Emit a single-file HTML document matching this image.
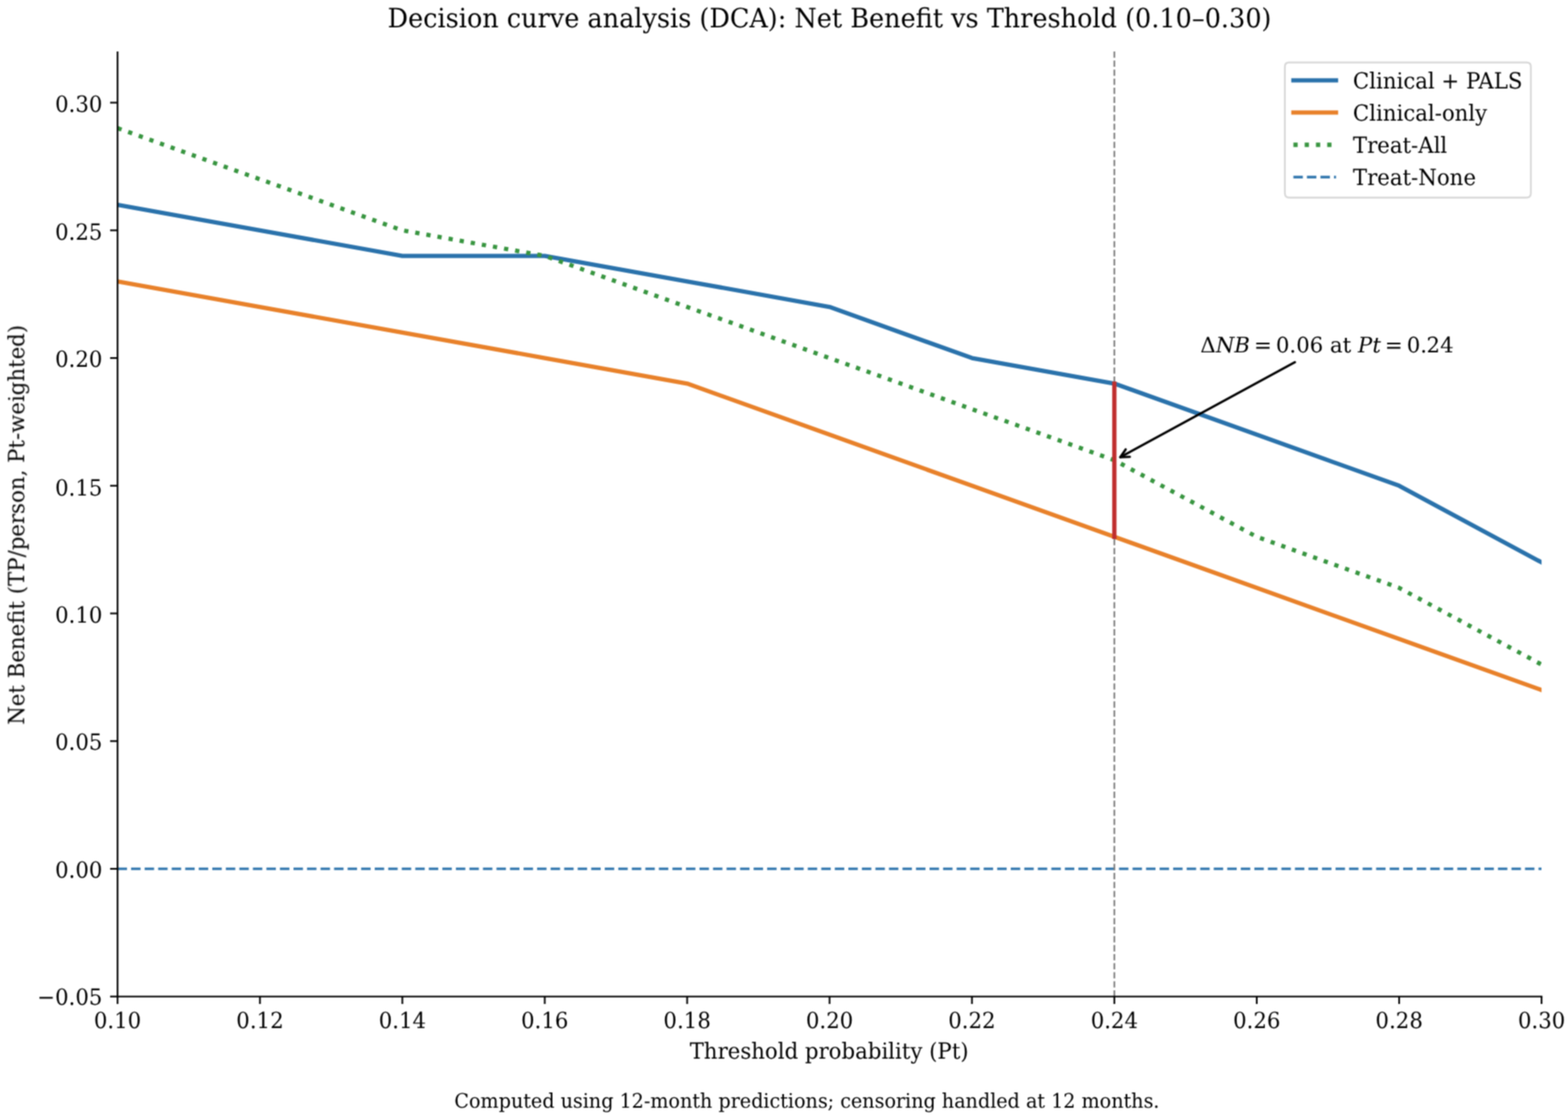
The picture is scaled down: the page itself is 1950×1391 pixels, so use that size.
<!DOCTYPE html><html><head><meta charset="utf-8"><title>Decision curve analysis (DCA): Net Benefit vs Threshold</title>
<style>html,body{margin:0;padding:0;background:#fff;overflow:hidden}svg{display:block}text{font-family:'DejaVu Serif', 'Liberation Serif', serif;fill:#000;text-rendering:geometricPrecision}</style></head><body>
<svg width="1950" height="1391" viewBox="0 0 1950 1391">
<defs><filter id="soft" filterUnits="userSpaceOnUse" x="0" y="0" width="1950" height="1391" color-interpolation-filters="sRGB"><feConvolveMatrix order="3" kernelMatrix="0.05712 0.12476 0.05712 0.12476 0.27250 0.12476 0.05712 0.12476 0.05712" edgeMode="duplicate"/></filter>
<clipPath id="ax"><rect x="146.2" y="64.1" width="1770.9" height="1174.64"/></clipPath></defs>
<rect width="1950" height="1391" fill="#fff"/>
<g filter="url(#soft)">
<g stroke="#000" stroke-width="2.12">
<line x1="146.2" y1="1238.74" x2="146.2" y2="1248"/>
<line x1="323.29" y1="1238.74" x2="323.29" y2="1248"/>
<line x1="500.38" y1="1238.74" x2="500.38" y2="1248"/>
<line x1="677.47" y1="1238.74" x2="677.47" y2="1248"/>
<line x1="854.56" y1="1238.74" x2="854.56" y2="1248"/>
<line x1="1031.65" y1="1238.74" x2="1031.65" y2="1248"/>
<line x1="1208.74" y1="1238.74" x2="1208.74" y2="1248"/>
<line x1="1385.83" y1="1238.74" x2="1385.83" y2="1248"/>
<line x1="1562.92" y1="1238.74" x2="1562.92" y2="1248"/>
<line x1="1740.01" y1="1238.74" x2="1740.01" y2="1248"/>
<line x1="1917.1" y1="1238.74" x2="1917.1" y2="1248"/>
<line x1="136.94" y1="1238.74" x2="146.2" y2="1238.74"/>
<line x1="136.94" y1="1080" x2="146.2" y2="1080"/>
<line x1="136.94" y1="921.26" x2="146.2" y2="921.26"/>
<line x1="136.94" y1="762.53" x2="146.2" y2="762.53"/>
<line x1="136.94" y1="603.79" x2="146.2" y2="603.79"/>
<line x1="136.94" y1="445.06" x2="146.2" y2="445.06"/>
<line x1="136.94" y1="286.32" x2="146.2" y2="286.32"/>
<line x1="136.94" y1="127.59" x2="146.2" y2="127.59"/>
</g>
<text transform="translate(146.2 1278.4) scale(1 1.045)" font-size="26.46" text-anchor="middle">0.10</text>
<text transform="translate(323.29 1278.4) scale(1 1.045)" font-size="26.46" text-anchor="middle">0.12</text>
<text transform="translate(500.38 1278.4) scale(1 1.045)" font-size="26.46" text-anchor="middle">0.14</text>
<text transform="translate(677.47 1278.4) scale(1 1.045)" font-size="26.46" text-anchor="middle">0.16</text>
<text transform="translate(854.56 1278.4) scale(1 1.045)" font-size="26.46" text-anchor="middle">0.18</text>
<text transform="translate(1031.65 1278.4) scale(1 1.045)" font-size="26.46" text-anchor="middle">0.20</text>
<text transform="translate(1208.74 1278.4) scale(1 1.045)" font-size="26.46" text-anchor="middle">0.22</text>
<text transform="translate(1385.83 1278.4) scale(1 1.045)" font-size="26.46" text-anchor="middle">0.24</text>
<text transform="translate(1562.92 1278.4) scale(1 1.045)" font-size="26.46" text-anchor="middle">0.26</text>
<text transform="translate(1740.01 1278.4) scale(1 1.045)" font-size="26.46" text-anchor="middle">0.28</text>
<text transform="translate(1917.1 1278.4) scale(1 1.045)" font-size="26.46" text-anchor="middle">0.30</text>
<text transform="translate(127.45 1249.46) scale(1 1.045)" font-size="26.46" text-anchor="end">−0.05</text>
<text transform="translate(127.45 1090.72) scale(1 1.045)" font-size="26.46" text-anchor="end">0.00</text>
<text transform="translate(127.45 931.99) scale(1 1.045)" font-size="26.46" text-anchor="end">0.05</text>
<text transform="translate(127.45 774.25) scale(1 1.045)" font-size="26.46" text-anchor="end">0.10</text>
<text transform="translate(127.45 615.51) scale(1 1.045)" font-size="26.46" text-anchor="end">0.15</text>
<text transform="translate(127.45 455.78) scale(1 1.045)" font-size="26.46" text-anchor="end">0.20</text>
<text transform="translate(127.45 298.04) scale(1 1.045)" font-size="26.46" text-anchor="end">0.25</text>
<text transform="translate(127.45 139.31) scale(1 1.045)" font-size="26.46" text-anchor="end">0.30</text>
<text transform="translate(1031.15 1315.6) scale(1 1.045)" font-size="26.46" text-anchor="middle">Threshold probability (Pt)</text>
<text transform="translate(30.15 652.42) rotate(-90) scale(1 1.045)" font-size="26.46" text-anchor="middle">Net Benefit (TP/person, Pt-weighted)</text>
<g clip-path="url(#ax)" fill="none" stroke-linejoin="round">
<polyline points="146.2,254.58 323.29,286.33 500.38,318.07 677.47,318.07 854.56,349.82 1031.65,381.57 1208.74,445.06 1385.83,476.81 1562.92,540.3 1740.01,603.8 1917.1,699.04" stroke="#2a72ab" stroke-width="5.29" stroke-linecap="square"/>
<polyline points="146.2,349.82 323.29,381.57 500.38,413.31 677.47,445.06 854.56,476.81 1031.65,540.3 1208.74,603.8 1385.83,667.29 1562.92,730.78 1740.01,794.28 1917.1,857.77" stroke="#e8812a" stroke-width="5.29" stroke-linecap="square"/>
<polyline points="146.2,159.34 323.29,222.83 500.38,286.33 677.47,318.07 854.56,381.57 1031.65,445.06 1208.74,508.55 1385.83,572.05 1562.92,667.29 1740.01,730.78 1917.1,826.02" stroke="#389540" stroke-width="5.29" stroke-dasharray="5.29,8.73"/>
<line x1="146.2" y1="1080" x2="1917.1" y2="1080" stroke="#2a72ab" stroke-width="3.18" stroke-dasharray="11.75,5.08"/>
<line x1="1385.83" y1="1238.74" x2="1385.83" y2="64.1" stroke="#808080" stroke-width="2.12" stroke-dasharray="7.83,3.39"/>
<line x1="1385.83" y1="667.29" x2="1385.83" y2="476.81" stroke="#c02e2e" stroke-width="5.29" stroke-linecap="square"/>
</g>
<path d="M146.2 65.15V1238.74H1917.1" fill="none" stroke="#000" stroke-width="2.12" stroke-linecap="square" stroke-linejoin="miter"/>
<g fill="none" stroke="#000" stroke-width="2.91" stroke-linecap="round" stroke-linejoin="round">
<path d="M1610.3 450.3L1393.2 568.3"/>
<path d="M1405.03 567.9L1393.2 568.3L1399.97 558.6"/>
</g>
<text transform="translate(1492.8 438.37)" font-size="26.46">
<tspan x="0" y="0">Δ</tspan>
<tspan x="19.11" y="0" font-style="italic">N</tspan>
<tspan x="42.26" y="0" font-style="italic">B</tspan>
<tspan x="66.72" y="0">=</tspan>
<tspan x="93.91" y="0">0</tspan>
<tspan x="110.75" y="0">.</tspan>
<tspan x="119.16" y="0">0</tspan>
<tspan x="135.99" y="0">6</tspan>
<tspan x="161.24" y="0">a</tspan>
<tspan x="177.01" y="0">t</tspan>
<tspan x="196.06" y="0" font-style="italic">P</tspan>
<tspan x="213.86" y="0" font-style="italic">t</tspan>
<tspan x="229.51" y="0">=</tspan>
<tspan x="256.7" y="0">0</tspan>
<tspan x="273.54" y="0">.</tspan>
<tspan x="281.28" y="0">2</tspan>
<tspan x="298.12" y="0">4</tspan>
</text>
<text transform="translate(1031.65 33.8) scale(1 1.045)" font-size="31.75" text-anchor="middle">Decision curve analysis (DCA): Net Benefit vs Threshold (0.10–0.30)</text>
<path d="M1603.19 245.6 L1898.51 245.6 Q1903.8 245.6 1903.8 240.31 L1903.8 82.89 Q1903.8 77.6 1898.51 77.6 L1603.19 77.6 Q1597.9 77.6 1597.9 82.89 L1597.9 240.31 Q1597.9 245.6 1603.19 245.6Z" fill="#fff" fill-opacity="0.8" stroke="#cccccc" stroke-opacity="0.8" stroke-width="2.12" stroke-linejoin="miter"/>
<line x1="1608.5" y1="99.8" x2="1661.5" y2="99.8" stroke="#2a72ab" stroke-width="5.29" stroke-linecap="square"/>
<text transform="translate(1682.5 110) scale(1 1.045)" font-size="26.46">Clinical + PALS</text>
<line x1="1608.5" y1="139.9" x2="1661.5" y2="139.9" stroke="#e8812a" stroke-width="5.29" stroke-linecap="square"/>
<text transform="translate(1682.5 150) scale(1 1.045)" font-size="26.46">Clinical-only</text>
<line x1="1608.5" y1="180" x2="1661.5" y2="180" stroke="#389540" stroke-width="5.29" stroke-dasharray="5.29,8.73"/>
<text transform="translate(1682.5 190) scale(1 1.045)" font-size="26.46">Treat-All</text>
<line x1="1608.5" y1="220.1" x2="1661.5" y2="220.1" stroke="#2a72ab" stroke-width="3.18" stroke-dasharray="11.75,5.08"/>
<text transform="translate(1682.5 230) scale(1 1.045)" font-size="26.46">Treat-None</text>
<text transform="translate(1003.5 1376.5) scale(1 1.045)" font-size="23.81" text-anchor="middle">Computed using 12-month predictions; censoring handled at 12 months.</text>
</g>
</svg></body></html>
